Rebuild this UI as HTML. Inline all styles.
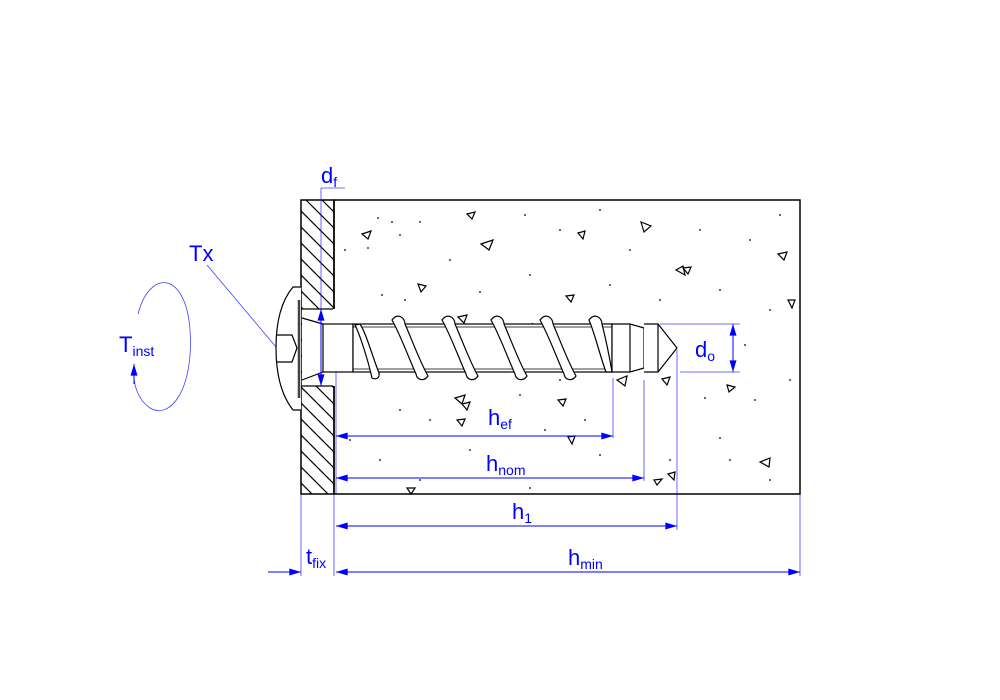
<!DOCTYPE html>
<html><head><meta charset="utf-8"><style>
html,body{margin:0;padding:0;background:#fff}
svg{display:block}
text{font-family:"Liberation Sans",Arial,sans-serif;fill:#0000ff}
</style></head><body>
<svg width="1000" height="700" viewBox="0 0 1000 700" xmlns="http://www.w3.org/2000/svg">
<defs>
<clipPath id="pl"><rect x="301" y="200" width="33" height="294"/></clipPath>
<marker id="a" viewBox="0 0 10 6" refX="10" refY="3" markerWidth="17" markerHeight="7" markerUnits="userSpaceOnUse" orient="auto-start-reverse"><path d="M0,0 L10,3 L0,6 z" fill="#0000ff"/></marker>
</defs>
<rect x="334" y="200" width="466" height="294" fill="#fff" stroke="#000" stroke-width="1.5"/>
<g fill="#000">
<circle cx="378" cy="218" r="0.9"/><circle cx="392" cy="222" r="0.9"/><circle cx="420" cy="222" r="0.9"/><circle cx="345" cy="250" r="0.9"/><circle cx="368" cy="248" r="0.9"/><circle cx="400" cy="235" r="0.9"/><circle cx="450" cy="260" r="0.9"/><circle cx="525" cy="215" r="0.9"/><circle cx="560" cy="230" r="0.9"/><circle cx="600" cy="210" r="0.9"/><circle cx="630" cy="250" r="0.9"/><circle cx="700" cy="230" r="0.9"/><circle cx="750" cy="240" r="0.9"/><circle cx="780" cy="215" r="0.9"/><circle cx="382" cy="295" r="0.9"/><circle cx="405" cy="300" r="0.9"/><circle cx="480" cy="292" r="0.9"/><circle cx="530" cy="275" r="0.9"/><circle cx="610" cy="285" r="0.9"/><circle cx="660" cy="300" r="0.9"/><circle cx="720" cy="290" r="0.9"/><circle cx="770" cy="310" r="0.9"/><circle cx="745" cy="345" r="0.9"/><circle cx="705" cy="398" r="0.9"/><circle cx="720" cy="438" r="0.9"/><circle cx="755" cy="400" r="0.9"/><circle cx="790" cy="380" r="0.9"/><circle cx="730" cy="460" r="0.9"/><circle cx="770" cy="480" r="0.9"/><circle cx="400" cy="410" r="0.9"/><circle cx="430" cy="420" r="0.9"/><circle cx="520" cy="395" r="0.9"/><circle cx="545" cy="430" r="0.9"/><circle cx="600" cy="455" r="0.9"/><circle cx="380" cy="460" r="0.9"/><circle cx="470" cy="450" r="0.9"/><circle cx="530" cy="488" r="0.9"/><circle cx="585" cy="420" r="0.9"/><circle cx="560" cy="380" r="0.9"/><circle cx="350" cy="440" r="0.9"/><circle cx="670" cy="460" r="0.9"/><circle cx="420" cy="480" r="0.9"/>
</g>
<g fill="none" stroke="#000" stroke-width="1.2">
<path d="M362,234 l9,-3 l-3,8 z"/><path d="M467,214 l8,-2 l-3,7 z"/><path d="M481,244 l12,-4 l-4,10 z"/><path d="M578,233 l7,-2 l-2,8 z"/><path d="M641,222 l10,4 l-7,6 z"/><path d="M676,270 l7,-4 l2,9 z"/><path d="M683,268 l8,-1 l-3,7 z"/><path d="M778,254 l9,-2 l-3,8 z"/><path d="M418,284 l8,2 l-5,6 z"/><path d="M566,296 l8,-1 l-3,7 z"/><path d="M788,300 l7,0 l-3,8 z"/><path d="M458,317 l9,-2 l-3,8 z"/><path d="M455,398 l10,-3 l-3,9 z"/><path d="M462,404 l8,-2 l-3,8 z"/><path d="M457,420 l8,-1 l-3,7 z"/><path d="M558,400 l8,-1 l-3,7 z"/><path d="M568,437 l7,-1 l-3,8 z"/><path d="M617,380 l10,-4 l-2,10 z"/><path d="M662,379 l8,-2 l-3,8 z"/><path d="M727,385 l8,2 l-6,5 z"/><path d="M668,474 l7,-2 l-1,8 z"/><path d="M654,480 l8,-1 l-5,6 z"/><path d="M760,462 l10,-4 l-1,9 z"/><path d="M407,488 l8,0 l-4,6 z"/><path d="M535,327 l-3,-4"/>
</g>
<g clip-path="url(#pl)" stroke="#000" stroke-width="1.2">
<path d="M280,190 l80,80 M280,206 l80,80 M280,222 l80,80 M280,238 l80,80 M280,254 l80,80 M280,270 l80,80 M280,286 l80,80 M280,302 l80,80 M280,318 l80,80 M280,334 l80,80 M280,350 l80,80 M280,366 l80,80 M280,382 l80,80 M280,398 l80,80 M280,414 l80,80 M280,430 l80,80 M280,446 l80,80 M280,462 l80,80 M280,478 l80,80 M280,494 l80,80 M280,174 l80,80 M280,158 l80,80 M280,142 l80,80"/>
</g>
<rect x="302" y="309" width="31" height="77" fill="#fff"/>
<rect x="301" y="200" width="33" height="294" fill="none" stroke="#000" stroke-width="1.5"/>
<line x1="301" y1="309" x2="334" y2="309" stroke="#000" stroke-width="1.2"/>
<line x1="301" y1="386" x2="334" y2="386" stroke="#000" stroke-width="1.2"/>
<line x1="334" y1="309" x2="334" y2="386" stroke="#fff" stroke-width="2"/>
<path d="M301,287 L293,287 C282,300 276,320 276,348 C276,376 282,396 293,410 L301,410" fill="#fff" stroke="#000" stroke-width="1.2"/>
<line x1="299" y1="300" x2="299" y2="398" stroke="#444" stroke-width="2.5"/>
<path d="M276,335 L292,335 L297,348 L292,362 L276,362" fill="none" stroke="#000" stroke-width="1.2"/>
<path d="M302,318 L323,324 M302,380 L323,372" stroke="#000" stroke-width="1.2"/>
<rect x="323" y="324" width="30" height="48" fill="#fff" stroke="#000" stroke-width="1.2"/>
<rect x="353" y="324" width="259" height="48" fill="#fff" stroke="#000" stroke-width="1.2"/>
<line x1="353" y1="327" x2="612" y2="327" stroke="#000" stroke-width="0.8"/>
<line x1="353" y1="369" x2="612" y2="369" stroke="#000" stroke-width="0.8"/>
<g fill="#fff" stroke="#000" stroke-width="1.2">
<path d="M355,325 C360,335 368,360 372,378 C376,380 380,378 379,373 C372,355 366,333 360,324 Z"/>
<path d="M392,320 C398,312 405,318 405,324 C412,340 420,362 428,376 C424,382 417,380 416,374 C408,356 400,334 392,320 Z"/>
<path d="M442,320 C448,312 455,318 455,324 C462,340 470,362 478,376 C474,382 467,380 466,374 C458,356 450,334 442,320 Z"/>
<path d="M491,320 C497,312 504,318 504,324 C511,340 519,362 527,376 C523,382 516,380 515,374 C507,356 499,334 491,320 Z"/>
<path d="M540,320 C546,312 553,318 553,324 C560,340 568,362 576,376 C572,382 565,380 564,374 C556,356 548,334 540,320 Z"/>
<path d="M589,320 C595,312 602,318 602,324 C606,340 610,360 612,372 L606,372 C600,356 595,334 589,320 Z"/>
</g>
<path d="M612,324 L630,324 L644,328 L644,368 L630,372 L612,372 Z" fill="#fff" stroke="#000" stroke-width="1.2"/>
<line x1="630" y1="324" x2="630" y2="372" stroke="#000" stroke-width="1.2"/>
<path d="M644,324 L658,324 L677,348 L658,372 L644,372" fill="#fff" stroke="#000" stroke-width="1.2"/>
<line x1="658" y1="324" x2="658" y2="372" stroke="#000" stroke-width="1.2"/>
<g stroke="#0000ff" stroke-width="0.8" fill="none" opacity="0.75">
<line x1="301" y1="494" x2="301" y2="576"/>
<line x1="334" y1="494" x2="334" y2="576"/>
<line x1="800" y1="494" x2="800" y2="576"/>
<line x1="677" y1="350" x2="677" y2="530"/>
<line x1="644" y1="380" x2="644" y2="481"/>
<line x1="613" y1="378" x2="613" y2="438"/>
<line x1="336" y1="372" x2="336" y2="494"/>
<line x1="660" y1="324" x2="740" y2="324"/>
<line x1="680" y1="372" x2="740" y2="372"/>
<line x1="321" y1="188" x2="321" y2="386"/>
<line x1="321" y1="188" x2="345" y2="188"/>
<line x1="207" y1="265" x2="276" y2="347"/>
<path d="M138,314 C150,268 186,272 190,330 C194,390 170,420 150,408 C138,400 134,385 134,376"/>
</g>
<g stroke="#0000ff" stroke-width="1" fill="none">
<line x1="336" y1="436" x2="613" y2="436" marker-start="url(#a)" marker-end="url(#a)"/>
<line x1="336" y1="478" x2="644" y2="478" marker-start="url(#a)" marker-end="url(#a)"/>
<line x1="336" y1="526" x2="677" y2="526" marker-start="url(#a)" marker-end="url(#a)"/>
<line x1="336" y1="572" x2="800" y2="572" marker-start="url(#a)" marker-end="url(#a)"/>
<line x1="268" y1="572" x2="301" y2="572" marker-end="url(#a)"/>
<line x1="733" y1="324" x2="733" y2="372" marker-start="url(#a)" marker-end="url(#a)"/>
<line x1="321" y1="309" x2="321" y2="386" marker-start="url(#a)" marker-end="url(#a)"/>
<line x1="134" y1="384" x2="134" y2="364" marker-end="url(#a)"/>
</g>
<text x="321" y="183" font-size="22">d<tspan font-size="14" dy="4">f</tspan></text>
<text x="189" y="261" font-size="22">Tx</text>
<text x="119" y="352" font-size="22">T<tspan font-size="14" dy="4">inst</tspan></text>
<text x="695" y="357" font-size="22">d<tspan font-size="14" dy="4">o</tspan></text>
<text x="488" y="425" font-size="22">h<tspan font-size="14" dy="4">ef</tspan></text>
<text x="486" y="471" font-size="22">h<tspan font-size="14" dy="4">nom</tspan></text>
<text x="512" y="519" font-size="22">h<tspan font-size="14" dy="4">1</tspan></text>
<text x="568" y="565" font-size="22">h<tspan font-size="14" dy="4">min</tspan></text>
<text x="306" y="564" font-size="22">t<tspan font-size="14" dy="4">fix</tspan></text>
</svg>
</body></html>
